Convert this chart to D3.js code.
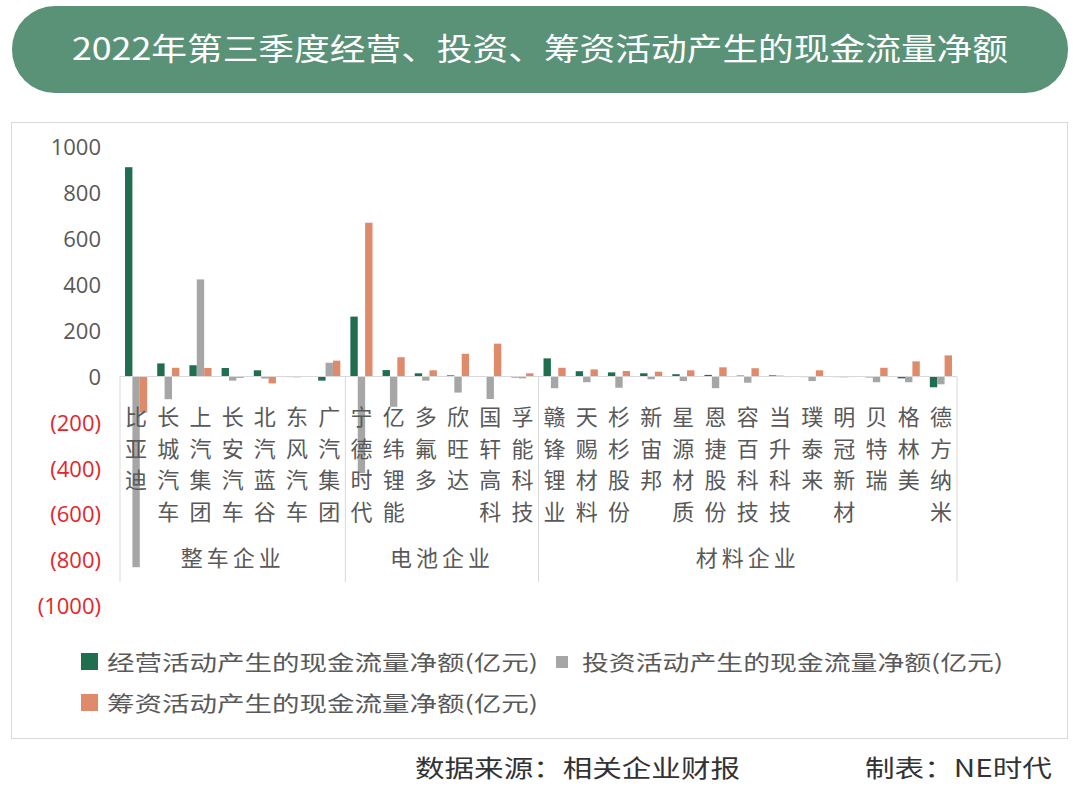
<!DOCTYPE html>
<html><head><meta charset="utf-8">
<script src="https://cdn.jsdelivr.net/npm/d3@7"></script>
<style>
html,body{margin:0;padding:0;background:#fff;}
svg{display:block;}
</style></head>
<body>
<svg id="chart" width="1080" height="810"></svg>
<script>
const title = "2022年第三季度经营、投资、筹资活动产生的现金流量净额";
const groups = ["整车企业","电池企业","材料企业"];
const categories = ["比亚迪","长城汽车","上汽集团","长安汽车","北汽蓝谷","东风汽车","广汽集团",
  "宁德时代","亿纬锂能","多氟多","欣旺达","国轩高科","孚能科技",
  "赣锋锂业","天赐材料","杉杉股份","新宙邦","星源材质","恩捷股份","容百科技","当升科技","璞泰来","明冠新材","贝特瑞","格林美","德方纳米"];
const categoryGroup = ["整车企业","整车企业","整车企业","整车企业","整车企业","整车企业","整车企业",
  "电池企业","电池企业","电池企业","电池企业","电池企业","电池企业",
  "材料企业","材料企业","材料企业","材料企业","材料企业","材料企业","材料企业","材料企业","材料企业","材料企业","材料企业","材料企业","材料企业"];
const seriesNames = ["经营活动产生的现金流量净额(亿元)","投资活动产生的现金流量净额(亿元)","筹资活动产生的现金流量净额(亿元)"];
const operating = [912,57,49,37,27,1,-18, 261,28,14,5,2,-4, 79,23,18,14,10,7,4,5,1,1,-3,-8,-47];
const investing = [-831,-99,423,-18,-9,-3,60, -421,-132,-18,-70,-98,-8, -51,-25,-49,-12,-20,-51,-27,4,-20,-1,-25,-25,-34];
const financing = [-157,38,37,-6,-30,2,69, 670,84,27,99,143,14, 38,31,24,21,27,40,36,1,27,1,38,66,92];
const yTicks = [1000,800,600,400,200,0,-200,-400,-600,-800,-1000];
const colors = ["#1f6e4f","#a6a6a6","#e08a6c"];
const source = "数据来源：相关企业财报";
const maker = "制表：NE时代";

const svg = d3.select("#chart");
const cjk = "'Noto Sans CJK SC','Noto Sans',sans-serif";

// Title banner
svg.append("rect").attr("x",12).attr("y",6).attr("width",1056).attr("height",87)
  .attr("rx",43).attr("fill","#5a9278");
svg.append("text").attr("x",540).attr("y",60).attr("text-anchor","middle")
  .attr("fill","#fff").attr("font-family",cjk).attr("font-size",31).attr("font-weight",400)
  .attr("textLength",936).attr("lengthAdjust","spacingAndGlyphs").text(title);

// Chart frame
svg.append("rect").attr("x",11.5).attr("y",122.5).attr("width",1056).attr("height",616)
  .attr("fill","none").attr("stroke","#d9d9d9").attr("stroke-width",1);

const x = d3.scaleBand().domain(categories).range([120,957]).padding(0);
const xs = d3.scaleBand().domain([0,1,2]).range([0,x.bandwidth()]).paddingInner(0).paddingOuter(0.68);
const y = d3.scaleLinear().domain([-1000,1000]).range([606,147]);

// Y axis labels
const yAxis = d3.axisLeft(y).tickValues(yTicks).tickSize(0).tickPadding(0)
  .tickFormat(d => d < 0 ? "(" + (-d) + ")" : String(d));
const ya = svg.append("g").attr("transform","translate(101,0)").call(yAxis);
ya.select(".domain").remove();
ya.selectAll("text").attr("font-family","'Open Sans','Noto Sans',sans-serif").attr("font-size",22)
  .attr("fill", d => d < 0 ? "#e3262b" : "#595959").attr("dy","0.35em");

// Bars
const allSeries = [operating, investing, financing];
allSeries.forEach((vals, si) => {
  svg.append("g").selectAll("rect").data(vals).join("rect")
    .attr("x", (d,i) => x(categories[i]) + xs(si))
    .attr("width", xs.bandwidth())
    .attr("y", d => y(Math.max(0,d)))
    .attr("height", d => Math.max(0.8, Math.abs(y(d) - y(0))))
    .attr("fill", colors[si]);
});

// zero axis line
svg.append("line").attr("x1",120).attr("x2",957).attr("y1",y(0)).attr("y2",y(0))
  .attr("stroke","#d9d9d9").attr("stroke-width",1);

// group dividers
const boundaries = [0];
categories.forEach((c,i) => { if (i>0 && categoryGroup[i] !== categoryGroup[i-1]) boundaries.push(i); });
boundaries.push(categories.length);
boundaries.forEach(b => {
  const bx = b < categories.length ? x(categories[b]) : x.range()[1];
  svg.append("line").attr("x1",bx).attr("x2",bx).attr("y1",y(0)).attr("y2",582)
    .attr("stroke","#d9d9d9").attr("stroke-width",1);
});

// category labels (vertical)
const labG = svg.append("g").attr("font-family",cjk).attr("font-size",22).attr("fill","#595959");
categories.forEach((c,i) => {
  const cx = x(c) + x.bandwidth()/2;
  Array.from(c).forEach((ch,k) => {
    labG.append("text").attr("x",cx).attr("y",425 + k*31.5).attr("text-anchor","middle").text(ch);
  });
});

// group labels
for (let g = 0; g < boundaries.length-1; g++) {
  const a = x(categories[boundaries[g]]);
  const b = boundaries[g+1] < categories.length ? x(categories[boundaries[g+1]]) : x.range()[1];
  svg.append("text").attr("x",(a+b)/2).attr("y",566).attr("text-anchor","middle")
    .attr("font-family",cjk).attr("font-size",22).attr("fill","#595959")
    .attr("letter-spacing",4).text(categoryGroup[boundaries[g]]);
}

// Legend
const leg = [
  {x:81, y:653, s:17, tx:107, ty:670, w:431},
  {x:556, y:656, s:12, tx:582, ty:670, w:421},
  {x:81, y:694, s:17, tx:107, ty:711, w:431}
];
leg.forEach((l,i) => {
  svg.append("rect").attr("x",l.x).attr("y",l.y).attr("width",l.s).attr("height",l.s).attr("fill",colors[i]);
  svg.append("text").attr("x",l.tx).attr("y",l.ty).attr("font-family",cjk).attr("font-size",21)
    .attr("fill","#595959").attr("textLength",l.w).attr("lengthAdjust","spacingAndGlyphs").text(seriesNames[i]);
});

// footer
svg.append("text").attr("x",415).attr("y",777).attr("font-family",cjk).attr("font-size",24)
  .attr("fill","#333").attr("textLength",325).attr("lengthAdjust","spacingAndGlyphs").text(source);
svg.append("text").attr("x",865).attr("y",777).attr("font-family",cjk).attr("font-size",24)
  .attr("fill","#333").attr("textLength",187).attr("lengthAdjust","spacingAndGlyphs").text(maker);
</script>
</body></html>
